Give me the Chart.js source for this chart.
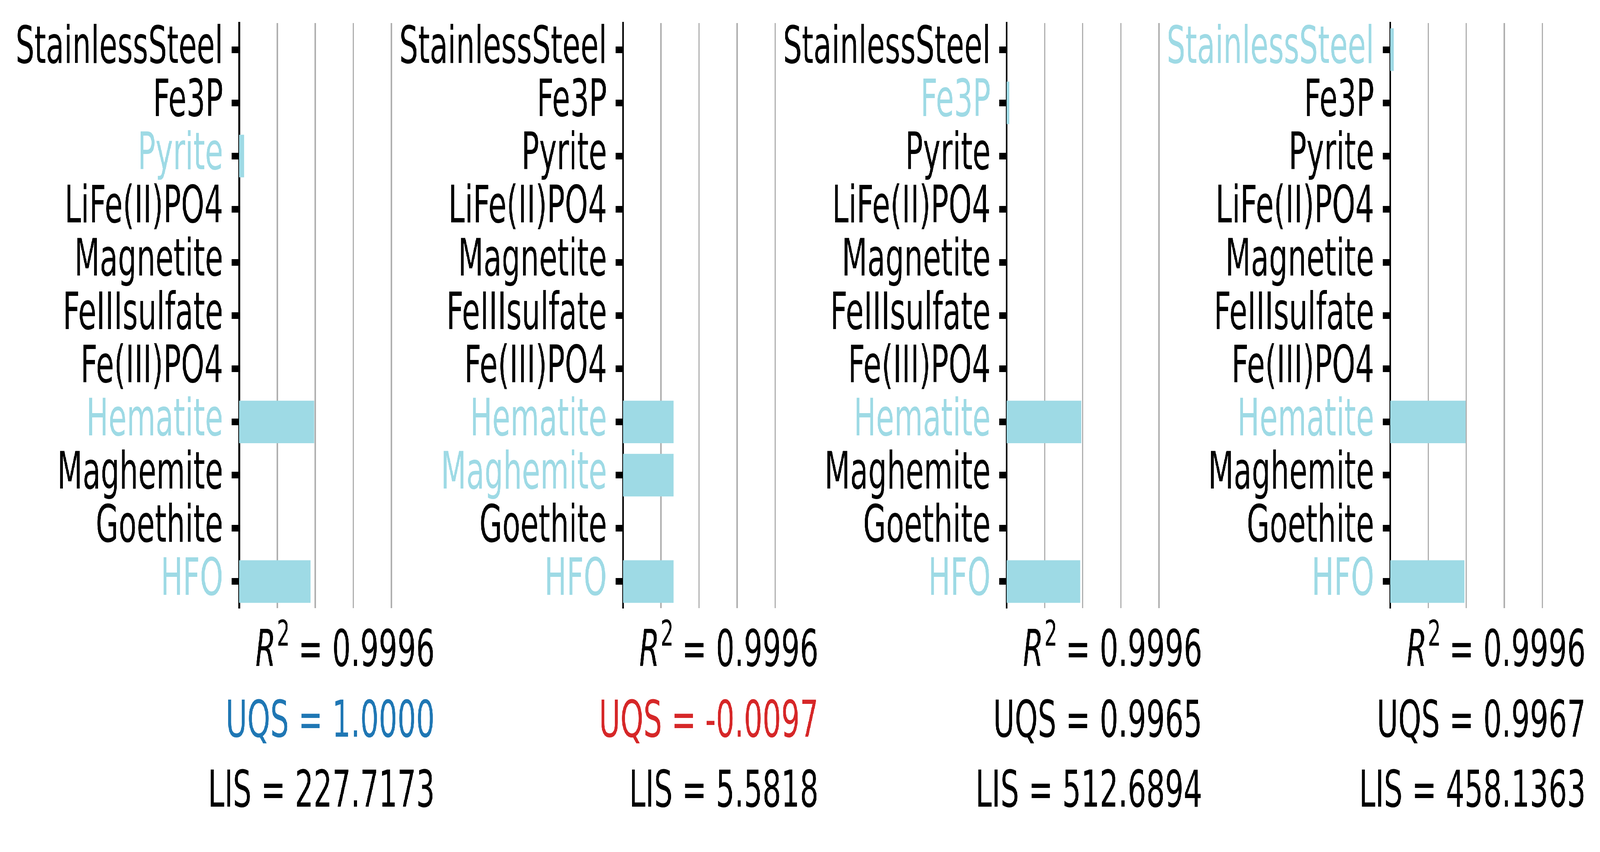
<!DOCTYPE html>
<html>
<head>
<meta charset="utf-8">
<script src="https://cdn.jsdelivr.net/npm/chart.js@4.4.1/dist/chart.umd.min.js"></script>
<style>
  html, body { margin: 0; padding: 0; background: #fff; overflow: hidden; }
  #stage { position: absolute; left: 0; top: 0; width: 7092px; height: 2180px; transform-origin: 0 0; }
  canvas { position: absolute; top: 0; }
</style>
</head>
<body>
<div id="stage">
  <canvas id="panel0" width="1867" height="2180"></canvas>
  <canvas id="panel1" width="1867" height="2180"></canvas>
  <canvas id="panel2" width="1867" height="2180"></canvas>
  <canvas id="panel3" width="1867" height="2180"></canvas>
</div>
<script>
// categories, top to bottom
const minerals = ["StainlessSteel", "Fe3P", "Pyrite", "LiFe(II)PO4", "Magnetite",
  "FeIIIsulfate", "Fe(III)PO4", "Hematite", "Maghemite", "Goethite", "HFO"];

// bar lengths per panel (gridline units)
const panelA = [0, 0, 0.13, 0, 0, 0, 0, 1.97, 0, 0, 1.875];
const panelB = [0, 0, 0, 0, 0, 0, 0, 1.33, 1.33, 0, 1.33];
const panelC = [0, 0.07, 0, 0, 0, 0, 0, 1.96, 0, 0, 1.935];
const panelD = [0.09, 0, 0, 0, 0, 0, 0, 1.98, 0, 0, 1.95];

// score texts under each panel
const r2Values = ["0.9996", "0.9996", "0.9996", "0.9996"];
const uqsValues = ["1.0000", "-0.0097", "0.9965", "0.9967"];
const uqsColors = ["#1f77b4", "#d62728", "#000000", "#000000"];
const lisValues = ["227.7173", "5.5818", "512.6894", "458.1363"];

// x gridlines (no tick labels shown)
const xGridTicks = [1, 2, 3, 4];
const xMax = 5.14;

const HIGHLIGHT = "#9edae5";
const FONT = "'DejaVu Sans', 'Liberation Sans', sans-serif";
const axisX = [1060, 2761, 4462, 6162];
const Y_AXIS_W = 1000;

// fit the 7092x2180 figure into whatever window we get
const stage = document.getElementById("stage");
stage.style.transform = "scale(" + (window.innerWidth / 7092) + "," + (window.innerHeight / 2180) + ")";

// ===== score text under the bars =====
const scoreText = {
  id: "scoreText",
  afterDraw(chart, args, opts) {
    const ctx = chart.ctx;
    const right = chart.chartArea.right;
    const base = chart.chartArea.bottom;
    const fs = 130;
    ctx.save();
    ctx.textBaseline = "alphabetic";
    ctx.textAlign = "left";

    // R^2 line
    const rest = " = " + opts.r2;
    ctx.font = "italic " + fs + "px " + FONT;
    const wR = ctx.measureText("R").width;
    ctx.font = Math.round(fs * 0.7) + "px " + FONT;
    const wSup = ctx.measureText("2").width;
    ctx.font = fs + "px " + FONT;
    const wRest = ctx.measureText(rest).width;
    let x = right - (wR + wSup + wRest);
    const y1 = base + 148;
    ctx.fillStyle = "#000";
    ctx.font = "italic " + fs + "px " + FONT;
    ctx.fillText("R", x, y1);
    x += wR + 4;
    ctx.font = Math.round(fs * 0.7) + "px " + FONT;
    ctx.fillText("2", x, y1 - 52);
    x += wSup - 4;
    ctx.font = fs + "px " + FONT;
    ctx.fillText(rest, x, y1);

    ctx.textAlign = "right";
    ctx.fillStyle = opts.uqsColor;
    ctx.fillText("UQS = " + opts.uqs, right, base + 329);
    ctx.fillStyle = "#000";
    ctx.fillText("LIS = " + opts.lis, right, base + 508);
    ctx.restore();
  }
};

function buildPanel(i, values) {
  const canvas = document.getElementById("panel" + i);
  canvas.style.left = (axisX[i] - Y_AXIS_W) + "px";

  return new Chart(canvas, {
    type: "bar",
    data: {
      labels: minerals,
      datasets: [{
        data: values,
        backgroundColor: HIGHLIGHT,
        borderWidth: 0,
        barPercentage: 0.8,
        categoryPercentage: 1.0
      }]
    },
    options: {
      indexAxis: "y",
      responsive: false,
      animation: false,
      devicePixelRatio: 1,
      layout: { padding: { top: 59, bottom: 624, left: 0, right: 0 } },
      plugins: {
        legend: { display: false },
        tooltip: { enabled: false },
        scoreText: {
          r2: r2Values[i],
          uqs: uqsValues[i],
          uqsColor: uqsColors[i],
          lis: lisValues[i]
        }
      },
      scales: {
        x: {
          min: 0,
          max: xMax,
          afterBuildTicks: s => { s.ticks = xGridTicks.map(v => ({ value: v })); },
          afterFit: s => { s.height = 0; s.paddingLeft = 0; s.paddingRight = 0; },
          ticks: { display: false },
          border: { display: false },
          grid: { color: "#b0b0b0", lineWidth: 6, drawTicks: false }
        },
        y: {
          z: 1,
          afterFit: s => { s.width = Y_AXIS_W; s.paddingTop = 0; s.paddingBottom = 0; },
          border: { display: true, color: "#000", width: 7 },
          grid: {
            offset: false,
            drawOnChartArea: false,
            tickLength: 33,
            tickWidth: 17,
            tickColor: "#000"
          },
          ticks: {
            autoSkip: false,
            padding: 38,
            font: { family: FONT, size: 131 },
            color: c => values[c.index] > 0 ? HIGHLIGHT : "#000"
          }
        }
      }
    },
    plugins: [scoreText]
  });
}

buildPanel(0, panelA);
buildPanel(1, panelB);
buildPanel(2, panelC);
buildPanel(3, panelD);
</script>
</body>
</html>
